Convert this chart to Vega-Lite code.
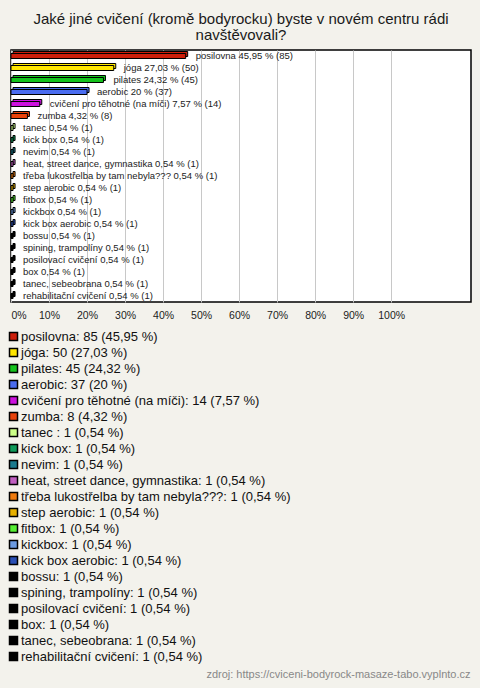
{
  "$schema": "https://vega.github.io/schema/vega-lite/v6.json",
  "width": 460,
  "height": 252,
  "autosize": {"type": "none"},
  "padding": {"left": 11, "top": 50, "right": 9, "bottom": 386},
  "background": "#F3F2EC",
  "title": {
    "text": ["Jaké jiné cvičení (kromě bodyrocku) byste v novém centru rádi", "navštěvovali?"],
    "fontSize": 15,
    "font": "Liberation Sans",
    "fontWeight": "normal",
    "color": "#1a1a1a",
    "anchor": "middle",
    "offset": 7,
    "lineHeight": 16
  },
  "config": {
    "view": {"fill": "white", "stroke": "black", "strokeWidth": 1.5}
  },
  "data": {
    "values": [
      {"name": "posilovna", "pct": 45.95, "count": 85, "label": "posilovna 45,95 % (85)", "legend": "posilovna: 85 (45,95 %)"},
      {"name": "jóga", "pct": 27.03, "count": 50, "label": "jóga 27,03 % (50)", "legend": "jóga: 50 (27,03 %)"},
      {"name": "pilates", "pct": 24.32, "count": 45, "label": "pilates 24,32 % (45)", "legend": "pilates: 45 (24,32 %)"},
      {"name": "aerobic", "pct": 20, "count": 37, "label": "aerobic 20 % (37)", "legend": "aerobic: 37 (20 %)"},
      {"name": "cvičení pro těhotné (na míči)", "pct": 7.57, "count": 14, "label": "cvičení pro těhotné (na míči) 7,57 % (14)", "legend": "cvičení pro těhotné (na míči): 14 (7,57 %)"},
      {"name": "zumba", "pct": 4.32, "count": 8, "label": "zumba 4,32 % (8)", "legend": "zumba: 8 (4,32 %)"},
      {"name": "tanec ", "pct": 0.54, "count": 1, "label": "tanec  0,54 % (1)", "legend": "tanec : 1 (0,54 %)"},
      {"name": "kick box", "pct": 0.54, "count": 1, "label": "kick box 0,54 % (1)", "legend": "kick box: 1 (0,54 %)"},
      {"name": "nevim", "pct": 0.54, "count": 1, "label": "nevim 0,54 % (1)", "legend": "nevim: 1 (0,54 %)"},
      {"name": "heat, street dance, gymnastika", "pct": 0.54, "count": 1, "label": "heat, street dance, gymnastika 0,54 % (1)", "legend": "heat, street dance, gymnastika: 1 (0,54 %)"},
      {"name": "třeba lukostřelba by tam nebyla???", "pct": 0.54, "count": 1, "label": "třeba lukostřelba by tam nebyla??? 0,54 % (1)", "legend": "třeba lukostřelba by tam nebyla???: 1 (0,54 %)"},
      {"name": "step aerobic", "pct": 0.54, "count": 1, "label": "step aerobic 0,54 % (1)", "legend": "step aerobic: 1 (0,54 %)"},
      {"name": "fitbox", "pct": 0.54, "count": 1, "label": "fitbox 0,54 % (1)", "legend": "fitbox: 1 (0,54 %)"},
      {"name": "kickbox", "pct": 0.54, "count": 1, "label": "kickbox 0,54 % (1)", "legend": "kickbox: 1 (0,54 %)"},
      {"name": "kick box aerobic", "pct": 0.54, "count": 1, "label": "kick box aerobic 0,54 % (1)", "legend": "kick box aerobic: 1 (0,54 %)"},
      {"name": "bossu", "pct": 0.54, "count": 1, "label": "bossu 0,54 % (1)", "legend": "bossu: 1 (0,54 %)"},
      {"name": "spining, trampolíny", "pct": 0.54, "count": 1, "label": "spining, trampolíny 0,54 % (1)", "legend": "spining, trampolíny: 1 (0,54 %)"},
      {"name": "posilovací cvičení", "pct": 0.54, "count": 1, "label": "posilovací cvičení 0,54 % (1)", "legend": "posilovací cvičení: 1 (0,54 %)"},
      {"name": "box", "pct": 0.54, "count": 1, "label": "box 0,54 % (1)", "legend": "box: 1 (0,54 %)"},
      {"name": "tanec, sebeobrana", "pct": 0.54, "count": 1, "label": "tanec, sebeobrana 0,54 % (1)", "legend": "tanec, sebeobrana: 1 (0,54 %)"},
      {"name": "rehabilitační cvičení", "pct": 0.54, "count": 1, "label": "rehabilitační cvičení 0,54 % (1)", "legend": "rehabilitační cvičení: 1 (0,54 %)"}
    ]
  },
  "encoding": {
    "y": {
      "field": "name",
      "type": "nominal",
      "sort": null,
      "axis": null,
      "scale": {"paddingInner": 0, "paddingOuter": 0}
    },
    "x": {
      "field": "pct",
      "type": "quantitative",
      "scale": {"domain": [0, 121], "nice": false, "zero": true},
      "axis": {
        "values": [0, 10, 20, 30, 40, 50, 60, 70, 80, 90, 100],
        "labelExpr": "datum.value + '%'",
        "grid": true,
        "gridColor": "#C8C8C8",
        "gridWidth": 1,
        "domain": false,
        "ticks": false,
        "labelFontSize": 10.5,
        "labelFont": "Liberation Sans",
        "labelColor": "#222222",
        "labelPadding": 8,
        "labelFlush": true,
        "title": "zdroj: https://cviceni-bodyrock-masaze-tabo.vyplnto.cz",
        "titleColor": "#888888",
        "titleFontSize": 11,
        "titleFontWeight": "normal",
        "titleFont": "Liberation Sans",
        "titleX": 459,
        "titleY": 375,
        "titleAlign": "right",
        "titleBaseline": "alphabetic"
      }
    },
    "color": {
      "field": "legend",
      "type": "nominal",
      "sort": null,
      "scale": {
        "range": ["#CC1E0A", "#FFE600", "#14C21C", "#4A6CF0", "#CC11DD", "#E8420A", "#CCFF88", "#0E9A5A", "#1A7A8E", "#C05EC0", "#EE7A0E", "#E6B000", "#55EE33", "#6B9AE0", "#2A4FB5", "#000000", "#000000", "#000000", "#000000", "#000000", "#000000"]
      },
      "legend": {
        "orient": "none",
        "legendX": -4,
        "legendY": 280,
        "title": null,
        "direction": "vertical",
        "symbolType": "square",
        "symbolSize": 64,
        "symbolStrokeColor": "black",
        "symbolStrokeWidth": 1.5,
        "symbolOpacity": 1,
        "labelFontSize": 13,
        "labelFont": "Liberation Sans",
        "labelColor": "#111111",
        "labelLimit": 400,
        "rowPadding": 1,
        "labelOffset": 1
      }
    }
  },
  "layer": [
    {
      "mark": {"type": "bar", "size": 5, "xOffset": 2, "x2Offset": 2, "yOffset": -2, "y2Offset": -2, "stroke": "black", "strokeWidth": 1, "opacity": 1}
    },
    {
      "mark": {"type": "bar", "size": 5, "stroke": "black", "strokeWidth": 1, "opacity": 1}
    },
    {
      "mark": {"type": "text", "align": "left", "baseline": "middle", "dx": 10, "fontSize": 9.5, "font": "Liberation Sans"},
      "encoding": {
        "text": {"field": "label"},
        "color": {"value": "#222222"}
      }
    }
  ]
}
